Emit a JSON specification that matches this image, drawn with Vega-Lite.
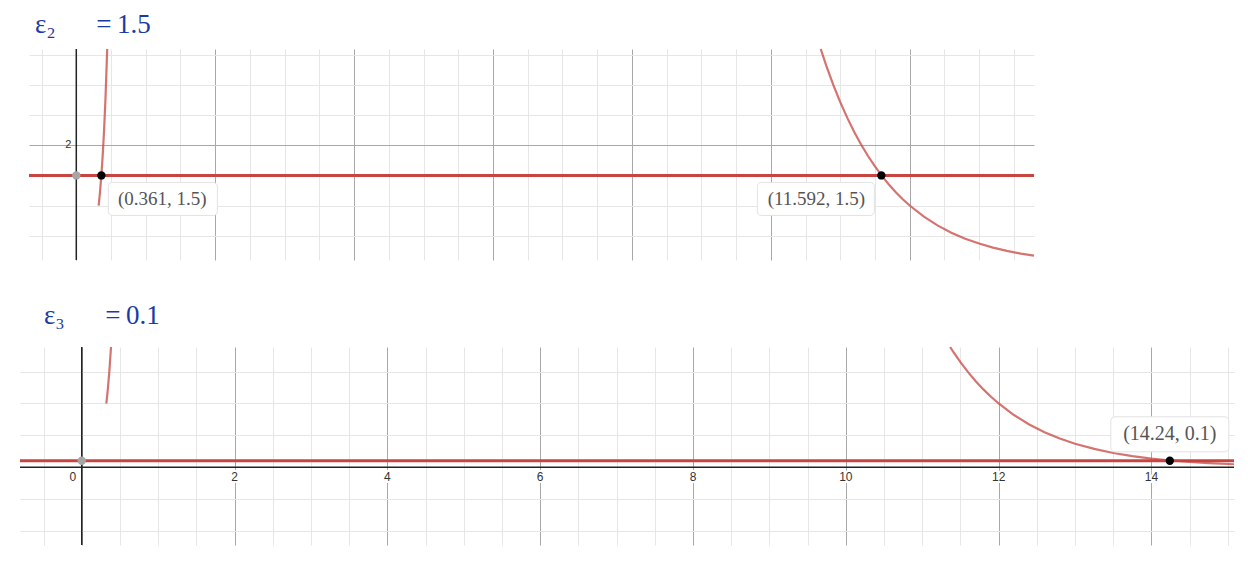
{
  "$schema": "https://vega.github.io/schema/vega-lite/v6.json",
  "background": "white",
  "padding": {"left": 14, "top": 10, "right": 0, "bottom": 0},
  "spacing": 38,
  "config": {"view": {"stroke": null}, "axis": {"gridWidth": 1}},
  "vconcat": [
    {
      "spacing": 2,
      "hconcat": [
        {"width": 1, "height": 1, "data": {"values": []}, "mark": {"type": "rect", "opacity": 0}},
        {
          "width": 1005,
          "height": 211,
          "title": {"text": "ε₂\u2003\u2002=\u20091.5", "anchor": "start", "frame": "group", "font": "Liberation Serif", "fontSize": 27, "fontWeight": "normal", "color": "#1a3ba6", "baseline": "alphabetic", "offset": -15, "dx": 6},
          "encoding": {
            "x": {"field": "x", "type": "quantitative", "scale": {"domain": [-0.681, 13.79], "nice": false, "zero": false},
              "axis": {"title": null, "labels": false, "ticks": false, "domain": false, "grid": true,
                "values": [-0.5,0,0.5,1,1.5,2,2.5,3,3.5,4,4.5,5,5.5,6,6.5,7,7.5,8,8.5,9,9.5,10,10.5,11,11.5,12,12.5,13,13.5],
                "gridColor": {"condition": {"test": "datum.value % 2 === 0", "value": "#a8a8a8"}, "value": "#e6e6e6"}}},
            "y": {"field": "y", "type": "quantitative", "scale": {"domain": [0.095, 3.6], "nice": false, "zero": false},
              "axis": {"title": null, "labels": false, "ticks": false, "domain": false, "grid": true,
                "values": [0.5,1,1.5,2,2.5,3,3.5],
                "gridColor": {"condition": {"test": "datum.value % 2 === 0", "value": "#a8a8a8"}, "value": "#e6e6e6"}}}
          },
          "layer": [
            {"data": {"values": [{"x": 0, "y": 0.095}, {"x": 0, "y": 3.6}]}, "mark": {"type": "line", "color": "#222222", "strokeWidth": 1.5}},
            {"data": {"values": [{"x": -0.681, "y": 1.5}, {"x": 13.79, "y": 1.5}]}, "mark": {"type": "line", "color": "#c74440", "strokeWidth": 3}},
            {"data": {"values": [
              {"g": "L", "x": 0.322, "y": 1.0}, {"g": "L", "x": 0.34, "y": 1.206}, {"g": "L", "x": 0.361, "y": 1.5}, {"g": "L", "x": 0.38, "y": 1.83}, {"g": "L", "x": 0.4, "y": 2.25}, {"g": "L", "x": 0.42, "y": 2.77}, {"g": "L", "x": 0.445, "y": 3.6},
              {"g": "R", "x": 10.719, "y": 3.6}, {"g": "R", "x": 10.8, "y": 3.32}, {"g": "R", "x": 10.9, "y": 3.004}, {"g": "R", "x": 11.0, "y": 2.718}, {"g": "R", "x": 11.1, "y": 2.46}, {"g": "R", "x": 11.2, "y": 2.226}, {"g": "R", "x": 11.3, "y": 2.014}, {"g": "R", "x": 11.4, "y": 1.822}, {"g": "R", "x": 11.5, "y": 1.649}, {"g": "R", "x": 11.6, "y": 1.492}, {"g": "R", "x": 11.7, "y": 1.35}, {"g": "R", "x": 11.8, "y": 1.221}, {"g": "R", "x": 11.9, "y": 1.105}, {"g": "R", "x": 12.0, "y": 1.0}, {"g": "R", "x": 12.2, "y": 0.819}, {"g": "R", "x": 12.4, "y": 0.67}, {"g": "R", "x": 12.6, "y": 0.549}, {"g": "R", "x": 12.8, "y": 0.449}, {"g": "R", "x": 13.0, "y": 0.368}, {"g": "R", "x": 13.2, "y": 0.301}, {"g": "R", "x": 13.4, "y": 0.247}, {"g": "R", "x": 13.6, "y": 0.202}, {"g": "R", "x": 13.79, "y": 0.167}
            ]}, "mark": {"type": "line", "color": "#c74440", "opacity": 0.75, "strokeWidth": 2.2}, "encoding": {"detail": {"field": "g"}}},
            {"data": {"values": [{"x": 0, "y": 2, "label": "2"}]}, "mark": {"type": "text", "dx": -8, "align": "center", "baseline": "middle", "font": "Liberation Sans", "fontSize": 11, "color": "#333333"}, "encoding": {"text": {"field": "label"}}},
            {"data": {"values": [{"x": 0, "y": 1.5}]}, "mark": {"type": "circle", "color": "#a6a6a6", "opacity": 1, "size": 70}},
            {"data": {"values": [{"x": 0.361, "y": 1.5}, {"x": 11.592, "y": 1.5}]}, "mark": {"type": "circle", "color": "#000000", "opacity": 1, "size": 70}},
            {"data": {"values": [{"x": 0.361, "y": 1.5}]}, "mark": {"type": "rect", "fill": "white", "stroke": "#e2e2e2", "strokeWidth": 1, "cornerRadius": 4, "xOffset": 7, "x2Offset": 116, "yOffset": 7, "y2Offset": 40}, "encoding": {"x2": {"field": "x"}, "y2": {"field": "y"}}},
            {"data": {"values": [{"x": 0.361, "y": 1.5, "label": "(0.361, 1.5)"}]}, "mark": {"type": "text", "dx": 61, "dy": 24, "align": "center", "baseline": "middle", "font": "Liberation Serif", "fontSize": 19, "color": "#555555"}, "encoding": {"text": {"field": "label"}}},
            {"data": {"values": [{"x": 11.592, "y": 1.5}]}, "mark": {"type": "rect", "fill": "white", "stroke": "#e2e2e2", "strokeWidth": 1, "cornerRadius": 4, "xOffset": -124, "x2Offset": -7, "yOffset": 7, "y2Offset": 40}, "encoding": {"x2": {"field": "x"}, "y2": {"field": "y"}}},
            {"data": {"values": [{"x": 11.592, "y": 1.5, "label": "(11.592, 1.5)"}]}, "mark": {"type": "text", "dx": -65, "dy": 24, "align": "center", "baseline": "middle", "font": "Liberation Serif", "fontSize": 19, "color": "#555555"}, "encoding": {"text": {"field": "label"}}}
          ]
        }
      ]
    },
    {
      "width": 1214,
      "height": 198,
      "title": {"text": "ε₃\u2003\u2002=\u20090.1", "anchor": "start", "frame": "group", "font": "Liberation Serif", "fontSize": 27, "fontWeight": "normal", "color": "#1a3ba6", "baseline": "alphabetic", "offset": -8, "dx": 24},
      "encoding": {
        "x": {"field": "x", "type": "quantitative", "scale": {"domain": [-0.808, 15.08], "nice": false, "zero": false},
          "axis": {"title": null, "labels": false, "ticks": false, "domain": false, "grid": true,
            "values": [-0.5,0,0.5,1,1.5,2,2.5,3,3.5,4,4.5,5,5.5,6,6.5,7,7.5,8,8.5,9,9.5,10,10.5,11,11.5,12,12.5,13,13.5,14,14.5,15],
            "gridColor": {"condition": {"test": "datum.value % 2 === 0", "value": "#a8a8a8"}, "value": "#e6e6e6"}}},
        "y": {"field": "y", "type": "quantitative", "scale": {"domain": [-1.222, 1.887], "nice": false, "zero": false},
          "axis": {"title": null, "labels": false, "ticks": false, "domain": false, "grid": true,
            "values": [-1,-0.5,0.5,1,1.5],
            "gridColor": "#e6e6e6"}}
      },
      "layer": [
        {"data": {"values": [{"x": 0, "y": -1.222}, {"x": 0, "y": 1.887}]}, "mark": {"type": "line", "color": "#222222", "strokeWidth": 1.5}},
        {"data": {"values": [{"x": -0.808, "y": 0}, {"x": 15.08, "y": 0}]}, "mark": {"type": "line", "color": "#222222", "strokeWidth": 1.5}},
        {"data": {"values": [{"x": 2, "y": 0, "label": "2"}, {"x": 4, "y": 0, "label": "4"}, {"x": 6, "y": 0, "label": "6"}, {"x": 8, "y": 0, "label": "8"}, {"x": 10, "y": 0, "label": "10"}, {"x": 12, "y": 0, "label": "12"}, {"x": 14, "y": 0, "label": "14"}]}, "mark": {"type": "text", "dy": 10, "align": "center", "baseline": "middle", "font": "Liberation Sans", "fontSize": 12, "color": "white", "stroke": "white", "strokeWidth": 4}, "encoding": {"text": {"field": "label"}}},
        {"data": {"values": [{"x": 2, "y": 0, "label": "2"}, {"x": 4, "y": 0, "label": "4"}, {"x": 6, "y": 0, "label": "6"}, {"x": 8, "y": 0, "label": "8"}, {"x": 10, "y": 0, "label": "10"}, {"x": 12, "y": 0, "label": "12"}, {"x": 14, "y": 0, "label": "14"}]}, "mark": {"type": "text", "dy": 10, "align": "center", "baseline": "middle", "font": "Liberation Sans", "fontSize": 12, "color": "#333333"}, "encoding": {"text": {"field": "label"}}},
        {"data": {"values": [{"x": 0, "y": 0, "label": "0"}]}, "mark": {"type": "text", "dx": -9, "dy": 10, "align": "center", "baseline": "middle", "font": "Liberation Sans", "fontSize": 12, "color": "#333333"}, "encoding": {"text": {"field": "label"}}},
        {"data": {"values": [{"x": -0.808, "y": 0.1}, {"x": 15.08, "y": 0.1}]}, "mark": {"type": "line", "color": "#c74440", "strokeWidth": 3}},
        {"data": {"values": [
          {"g": "L", "x": 0.322, "y": 1.0}, {"g": "L", "x": 0.34, "y": 1.206}, {"g": "L", "x": 0.361, "y": 1.5}, {"g": "L", "x": 0.383, "y": 1.887},
          {"g": "R", "x": 11.365, "y": 1.887}, {"g": "R", "x": 11.4, "y": 1.822}, {"g": "R", "x": 11.5, "y": 1.649}, {"g": "R", "x": 11.6, "y": 1.492}, {"g": "R", "x": 11.7, "y": 1.35}, {"g": "R", "x": 11.8, "y": 1.221}, {"g": "R", "x": 11.9, "y": 1.105}, {"g": "R", "x": 12.0, "y": 1.0}, {"g": "R", "x": 12.2, "y": 0.819}, {"g": "R", "x": 12.4, "y": 0.67}, {"g": "R", "x": 12.6, "y": 0.549}, {"g": "R", "x": 12.8, "y": 0.449}, {"g": "R", "x": 13.0, "y": 0.368}, {"g": "R", "x": 13.25, "y": 0.287}, {"g": "R", "x": 13.5, "y": 0.223}, {"g": "R", "x": 13.75, "y": 0.174}, {"g": "R", "x": 14.0, "y": 0.135}, {"g": "R", "x": 14.25, "y": 0.105}, {"g": "R", "x": 14.5, "y": 0.082}, {"g": "R", "x": 14.75, "y": 0.064}, {"g": "R", "x": 15.08, "y": 0.046}
        ]}, "mark": {"type": "line", "color": "#c74440", "opacity": 0.75, "strokeWidth": 2.2}, "encoding": {"detail": {"field": "g"}}},
        {"data": {"values": [{"x": 0, "y": 0.1}]}, "mark": {"type": "circle", "color": "#a6a6a6", "opacity": 1, "size": 70}},
        {"data": {"values": [{"x": 14.24, "y": 0.1}]}, "mark": {"type": "circle", "color": "#000000", "opacity": 1, "size": 70}},
        {"data": {"values": [{"x": 14.24, "y": 0.1}]}, "mark": {"type": "rect", "fill": "white", "stroke": "#e2e2e2", "strokeWidth": 1, "cornerRadius": 4, "xOffset": -59, "x2Offset": 59, "yOffset": -44, "y2Offset": -9}, "encoding": {"x2": {"field": "x"}, "y2": {"field": "y"}}},
        {"data": {"values": [{"x": 14.24, "y": 0.1, "label": "(14.24, 0.1)"}]}, "mark": {"type": "text", "dx": 0, "dy": -27, "align": "center", "baseline": "middle", "font": "Liberation Serif", "fontSize": 20, "color": "#555555"}, "encoding": {"text": {"field": "label"}}}
      ]
    }
  ]
}
